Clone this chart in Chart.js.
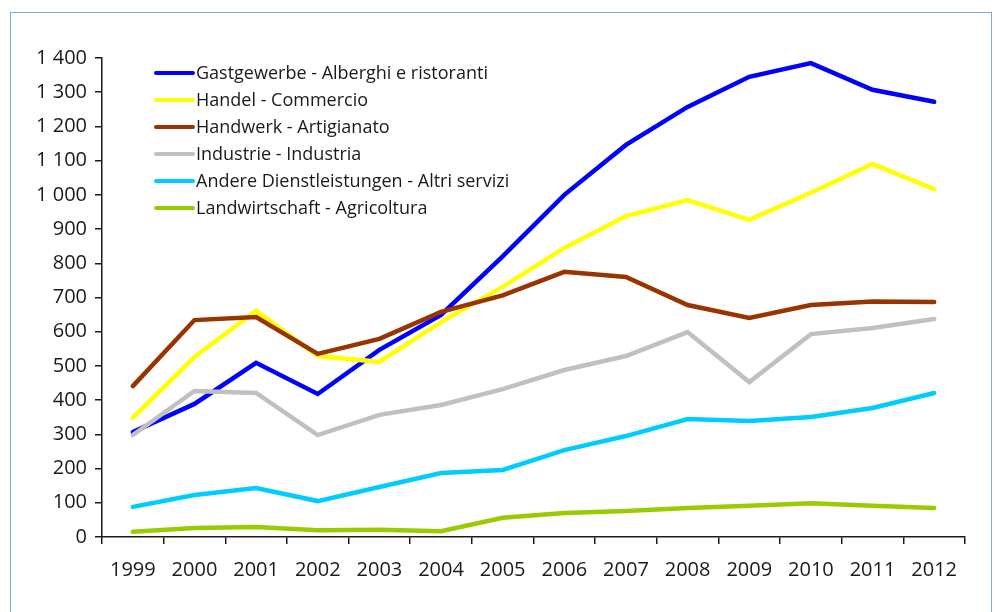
<!DOCTYPE html>
<html>
<head>
<meta charset="utf-8">
<script src="https://cdn.jsdelivr.net/npm/chart.js@4.4.1/dist/chart.umd.min.js"></script>
<style>
  body { margin: 0; background: #fff; overflow: hidden; }
  #frame {
    position: absolute; left: 10px; top: 12px; width: 982px; height: 640px;
    border: 1.5px solid #7aaedb; box-sizing: border-box;
  }
  #wrap { position: absolute; left: 0; top: 0; width: 995px; height: 612px; }
</style>
</head>
<body>
<div id="frame"></div>
<div id="wrap"><canvas id="grafico" width="995" height="612"></canvas></div>
<script>
const anni = ["1999", "2000", "2001", "2002", "2003", "2004", "2005", "2006", "2007", "2008", "2009", "2010", "2011", "2012"];

const gastgewerbe = [307, 389, 509, 418, 547, 649, 820, 1000, 1146, 1257, 1345, 1385, 1307, 1272];
const handel = [348, 526, 661, 529, 512, 628, 731, 845, 938, 985, 927, 1006, 1090, 1017];
const handwerk = [441, 634, 643, 535, 579, 658, 706, 775, 760, 678, 640, 678, 688, 687];
const industrie = [298, 427, 421, 298, 357, 386, 432, 488, 529, 599, 453, 593, 611, 637];
const andere = [88, 123, 143, 105, 146, 187, 196, 254, 295, 345, 339, 351, 377, 421];
const landwirtschaft = [15, 26, 29, 20, 21, 17, 56, 70, 76, 85, 91, 99, 91, 85];

const etichette = [
  "Gastgewerbe - Alberghi e ristoranti",
  "Handel - Commercio",
  "Handwerk - Artigianato",
  "Industrie - Industria",
  "Andere Dienstleistungen - Altri servizi",
  "Landwirtschaft - Agricoltura",
];
const colori = ["#0000ff", "#ffff00", "#993300", "#c0c0c0", "#00ccff", "#99cc00"];
const serie = [gastgewerbe, handel, handwerk, industrie, andere, landwirtschaft];

const yTicks = [0, 100, 200, 300, 400, 500, 600, 700, 800, 900, 1000, 1100, 1200, 1300, 1400];

function formatta(v) {
  if (v >= 1000) return Math.floor(v / 1000) + " " + String(v % 1000).padStart(3, "0");
  return String(v);
}

// legenda disegnata dentro l'area del grafico, nell'ordine delle serie
const legendaInterna = {
  id: "legendaInterna",
  afterDraw(chart) {
    const ctx = chart.ctx;
    ctx.save();
    ctx.font = "18px 'Open Sans'";
    ctx.textBaseline = "middle";
    etichette.forEach((testo, i) => {
      const y = 73 + i * 27;
      ctx.strokeStyle = colori[i];
      ctx.lineWidth = 4;
      ctx.lineCap = "round";
      ctx.beginPath();
      ctx.moveTo(156, y);
      ctx.lineTo(193, y);
      ctx.stroke();
      ctx.fillStyle = "#1a1a1a";
      ctx.fillText(testo, 196, y + 1);
    });
    ctx.restore();
  },
};

// la prima serie viene disegnata sopra in Chart.js: invertiamo come in Excel
new Chart(document.getElementById("grafico"), {
  type: "line",
  data: {
    labels: anni,
    datasets: serie.map((d, i) => ({
      label: etichette[i],
      data: d,
      borderColor: colori[i],
      backgroundColor: colori[i],
      borderWidth: 4.5,
      pointRadius: 0,
      tension: 0,
      borderCapStyle: "round",
      borderJoinStyle: "miter",
    })).reverse(),
  },
  options: {
    responsive: false,
    animation: false,
    layout: { padding: { top: 58, right: 30, left: 0, bottom: 0 } },
    plugins: { legend: { display: false }, tooltip: { enabled: false } },
    scales: {
      x: {
        offset: true,
        grid: { offset: true, drawOnChartArea: false, color: "#1a1a1a", tickLength: 7, lineWidth: 1.5 },
        border: { color: "#1a1a1a", width: 1.5 },
        ticks: { color: "#1a1a1a", font: { family: "'Open Sans'", size: 20 }, padding: 14, maxRotation: 0 },
        afterFit(s) { s.height = 75; },
      },
      y: {
        min: 0,
        max: 1400,
        afterBuildTicks(s) { s.ticks = yTicks.map((v) => ({ value: v })); },
        grid: { drawOnChartArea: false, color: "#1a1a1a", tickLength: 7, lineWidth: 1.5 },
        border: { color: "#1a1a1a", width: 1.5 },
        ticks: { color: "#1a1a1a", font: { family: "'Open Sans'", size: 20 }, padding: 8, callback: (v) => formatta(v) },
        afterFit(s) { s.width = 102; },
      },
    },
  },
  plugins: [legendaInterna],
});
</script>
</body>
</html>
